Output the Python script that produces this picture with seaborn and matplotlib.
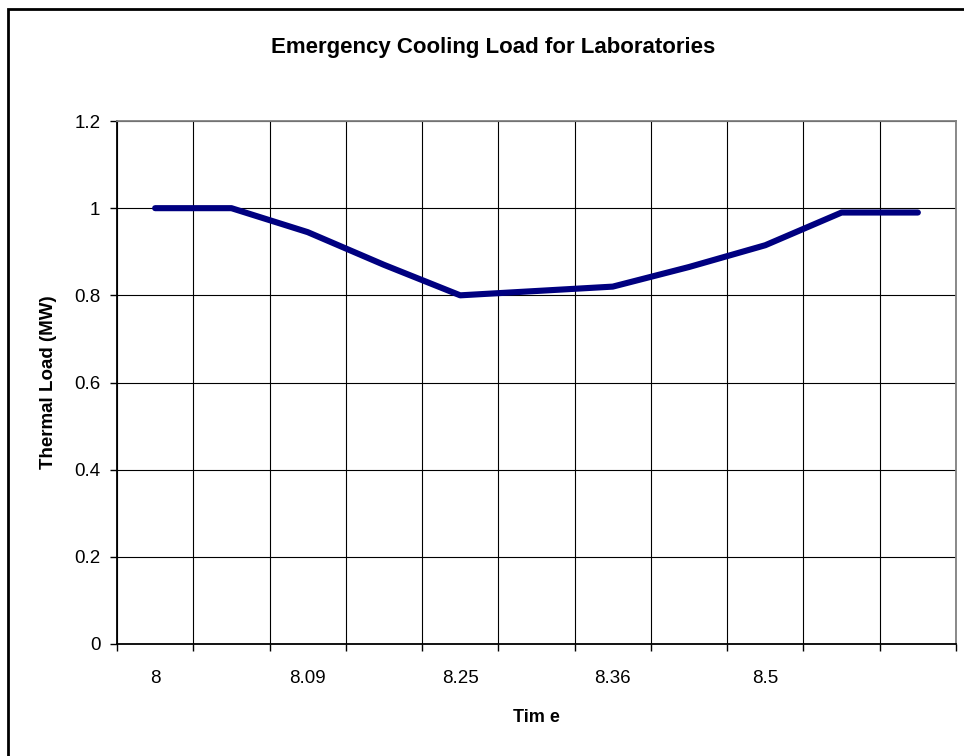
import numpy as np
import pandas as pd
import matplotlib
matplotlib.use("Agg")
import matplotlib.pyplot as plt
from matplotlib.patches import Rectangle
import seaborn as sns

sns.set_style("white")
plt.rcParams['font.family'] = ['Liberation Sans', 'DejaVu Sans']
plt.rcParams['text.color'] = 'black'
plt.rcParams['axes.labelcolor'] = 'black'
plt.rcParams['xtick.color'] = 'black'
plt.rcParams['ytick.color'] = 'black'

# time categories (only every other label is printed on the chart)
time_labels = ["8", "", "8.09", "", "8.25", "", "8.36", "", "8.5", "", ""]
load_mw = [1.0, 1.0, 0.945, 0.87, 0.80, 0.81, 0.82, 0.865, 0.915, 0.99, 0.99]
y_ticks = [0, 0.2, 0.4, 0.6, 0.8, 1, 1.2]

df = pd.DataFrame({"pos": np.arange(len(load_mw)), "load": load_mw})

fig = plt.figure(figsize=(9.64, 7.56), dpi=100)
ax = fig.add_axes([117/964, 1 - 644/756, (956-117)/964, (644-121)/756])

sns.lineplot(data=df, x="pos", y="load", ax=ax, color="#000080", lw=4.4,
             solid_capstyle="round", solid_joinstyle="round")

n = len(load_mw)
ax.set_xlim(-0.5, n - 0.5)
ax.set_ylim(0, 1.2)

# ticks on category boundaries, labels at centers
ax.set_xticks(np.arange(n + 1) - 0.5)
ax.set_xticklabels([])
ax.set_xticks(np.arange(n), minor=True)
ax.set_xticklabels(time_labels, minor=True, fontsize=13.5)
ax.tick_params(axis="x", which="major", direction="out", length=5, width=1, color="black")
ax.tick_params(axis="x", which="minor", length=0, pad=18.5)

ax.set_yticks(y_ticks)
ax.set_yticklabels([("%g" % v) for v in y_ticks], fontsize=13.5)
ax.tick_params(axis="y", direction="out", length=5, width=1, color="black", pad=7)
ax.tick_params(left=True, bottom=True)

ax.grid(True, which="major", color="black", lw=0.8)
ax.set_axisbelow(True)

for s in ["left", "bottom"]:
    ax.spines[s].set_color("black")
    ax.spines[s].set_linewidth(1.3)
for s in ["top", "right"]:
    ax.spines[s].set_color("#808080")
    ax.spines[s].set_linewidth(1.3)

ax.set_xlabel("Tim e", fontsize=13, fontweight="bold", labelpad=16)
ax.set_ylabel("Thermal Load (MW)", fontsize=13.5, fontweight="bold", labelpad=12)

fig.text(493/964, 1 - 48/756, "Emergency Cooling Load for Laboratories",
         ha="center", va="center", fontsize=16, fontweight="bold")

# chart area border (runs off the right and bottom edges)
fig.patches.append(Rectangle((8/964, -0.1), 1.2, 1 - 9/756 + 0.1,
                             transform=fig.transFigure, fill=False,
                             edgecolor="black", lw=2))

fig.savefig("out.png", dpi=100)
